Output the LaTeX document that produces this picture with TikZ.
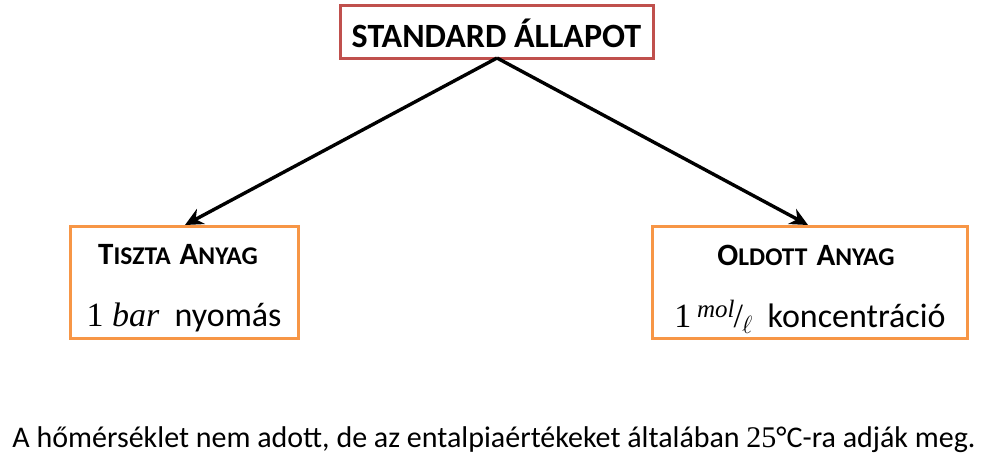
\documentclass[tikz,border=0pt]{standalone}
\usepackage{fontspec}
\setmainfont{Carlito}
\newfontfamily\mathserif{Liberation Serif}
\usetikzlibrary{arrows.meta}
\newcommand{\sck}[2]{{\fontsize{31}{34}\selectfont #1}{\fontsize{25.5}{28}\selectfont #2}}
\begin{document}
\begin{tikzpicture}[x=1pt,y=-1pt,
  topbox/.style={draw={rgb,255:red,192;green,80;blue,77}, line width=3pt, minimum width=313pt, minimum height=53pt, inner sep=0pt},
  subbox/.style={draw={rgb,255:red,247;green,150;blue,70}, line width=3pt, minimum height=112pt, inner sep=0pt},
  conn/.style={line width=3.4pt, -{Stealth[length=18pt,width=17pt]}}]
\useasboundingbox (0,0) rectangle (988,461);
\node[topbox] (top) at (496.5,31.5) {};
\node[font=\bfseries\fontsize{34}{38}\selectfont] (toptxt) at (496.5,33) {STANDARD ÁLLAPOT};
\node[subbox, minimum width=228pt] (left) at (184,282) {};
\node[subbox, minimum width=315pt] (right) at (809.5,282) {};
\node[font=\bfseries] (lt) at (178,255) {\sck{T}{ISZTA}\hspace{9pt}\sck{A}{NYAG}};
\node (lb) at (184,317) {\fontsize{34}{38}\selectfont {\mathserif 1 \itshape bar}\ \ nyomás};
\node[font=\bfseries] (rt) at (806,255) {\sck{O}{LDOTT}\hspace{9pt}\sck{A}{NYAG}};
\node (rb) at (810,317) {\fontsize{34}{38}\selectfont {\mathserif 1\,\raisebox{0.6ex}{\fontsize{25}{26}\selectfont\itshape mol}\kern-1pt/\kern-1pt\raisebox{-0.4ex}{\fontsize{24}{26}\selectfont$\ell$}}\ \ koncentráció};
\coordinate (apex) at (497,58);
\draw[conn] (apex) -- (185,225);
\draw[conn] (apex) -- (808,225);
\node[font=\fontsize{30}{34}\selectfont] (foot) at (494,440) {A hőmérséklet nem adott, de az entalpiaértékeket általában {\mathserif 25}°C-ra adják meg.};
\end{tikzpicture}
\end{document}
